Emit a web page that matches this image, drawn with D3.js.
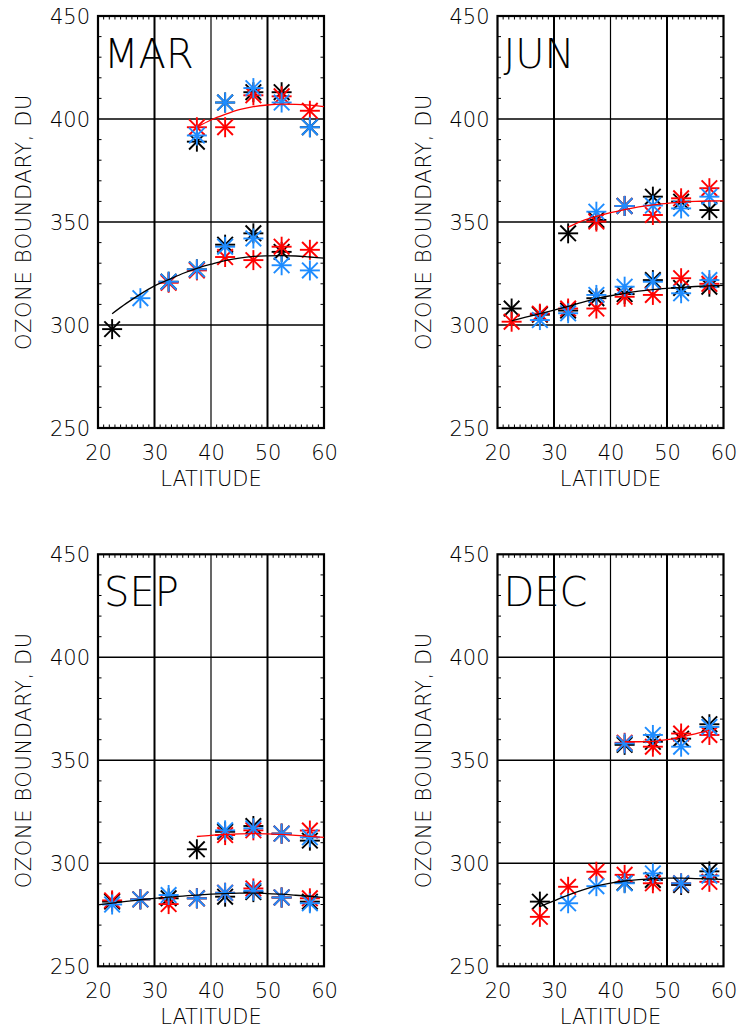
<!DOCTYPE html>
<html>
<head>
<meta charset="utf-8">
<script src="https://cdn.jsdelivr.net/npm/d3@7"></script>
<style>
  html, body { margin: 0; padding: 0; background: #fff; }
  svg text { font-family: "DejaVu Sans ExtraLight", "DejaVu Sans", sans-serif; font-weight: 200; fill: #000; }
</style>
</head>
<body>
<svg id="chart" width="738" height="1029"></svg>
<script>
// Latitude bin centres shared by all months
const latBins = [22.5, 27.5, 32.5, 37.5, 42.5, 47.5, 52.5, 57.5];
const xTicks = [20, 30, 40, 50, 60];
const yTicks = [250, 300, 350, 400, 450];

// ---- MAR ----
const marLowBlack  = [298, null, 321, 327, 339, 344.5, 335.5, null];
const marLowRed    = [null, null, 320.5, 326.5, 333, 331.5, 338, 336.5];
const marLowBlue   = [null, 313, 321, 327, 338, 342, 329, 326.5];
const marHighBlack = [null, null, null, 389, 408, 413, 413, 396];
const marHighRed   = [null, null, null, 396, 396, 411.5, 411, 404];
const marHighBlue  = [null, null, null, 392, 408, 415, 408, 396];
const marLowFitLat  = [22.5, 25, 27.5, 30, 32.5, 35, 37.5, 40, 42.5, 45, 47.5, 50, 52.5, 55, 57.5, 60];
const marLowFit     = [305.5, 310.5, 315, 319, 322, 325, 327.5, 329.5, 331.3, 332.5, 333.3, 333.6, 333.7, 333.5, 333, 332.5];
const marHighFitLat = [37.5, 40, 42.5, 45, 47.5, 50, 52.5, 55, 57.5, 60];
const marHighFit    = [396, 399.5, 402.2, 404.5, 406, 406.8, 407.2, 407.1, 406.7, 406];

// ---- JUN ----
const junLowBlack  = [308, 305, 307, 313, 315, 321.8, 318, 318.6];
const junLowRed    = [301.6, 305.5, 308, 308, 313.7, 314.6, 322.7, 320];
const junLowBlue   = [null, 302.4, 305.7, 314.6, 318.6, 321, 315.4, 321.8];
const junHighBlack = [null, null, 344.5, 351, 357.8, 362.3, 359.9, 355.8];
const junHighRed   = [null, null, null, 350.2, 357.8, 353.4, 361.5, 366.4];
const junHighBlue  = [null, null, null, 355, 357.8, 358, 356.6, 362.3];
const junLowFitLat  = [22.5, 25, 27.5, 30, 32.5, 35, 37.5, 40, 42.5, 45, 47.5, 50, 52.5, 55, 57.5, 60];
const junLowFit     = [302, 303.8, 305.5, 307.2, 309, 311, 312.8, 314.2, 315.4, 316.4, 317.2, 317.8, 318.3, 318.7, 319, 319.2];
const junHighFitLat = [32.5, 35, 37.5, 40, 42.5, 45, 47.5, 50, 52.5, 55, 57.5, 60];
const junHighFit    = [347.5, 350.5, 352.7, 354.5, 356, 357.3, 358.3, 359, 359.6, 360, 360.2, 360.3];

// ---- SEP ----
const sepLowBlack  = [281.4, 282.5, 283, 283, 283.8, 286, 283.4, 281.4];
const sepLowRed    = [282, 282.5, 280.2, 283, 285.7, 287.8, 283.4, 283];
const sepLowBlue   = [280, 282.5, 284.6, 283, 285.7, 286.7, 283.4, 280.6];
const sepHighBlack = [null, null, null, 306.8, 315.3, 318.1, 314.4, 311];
const sepHighRed   = [null, null, null, null, 313.7, 316, 314.4, 315.9];
const sepHighBlue  = [null, null, null, null, 316, 317, 314.4, 312.6];
const sepLowFitLat  = [20, 22.5, 25, 27.5, 30, 32.5, 35, 37.5, 40, 42.5, 45, 47.5, 50, 52.5, 55, 57.5, 60];
const sepLowFit     = [279.8, 280.7, 281.5, 282.3, 283, 283.6, 284.1, 284.6, 285, 285.3, 285.5, 285.5, 285.3, 285, 284.5, 284, 283.4];
const sepHighFitLat = [37.5, 40, 42.5, 45, 47.5, 50, 52.5, 55, 57.5, 60];
const sepHighFit    = [313, 313.6, 314, 314.3, 314.4, 314.3, 314, 313.6, 313.1, 312.6];

// ---- DEC ----
const decLowBlack  = [null, 281.4, null, null, 290.6, 291.9, 289.5, 296.1];
const decLowRed    = [null, 274, 288.6, 295.9, 294.4, 290.3, 290.3, 291];
const decLowBlue   = [null, null, 280.6, 288.9, 290.3, 295.1, 290.3, 294];
const decHighBlack = [null, null, null, null, 357.5, 359, 360.5, 367.5];
const decHighRed   = [null, null, null, null, 358.5, 356.6, 363, 362.3];
const decHighBlue  = [null, null, null, null, 358.2, 362.3, 356.6, 366.2];
const decLowFitLat  = [27.5, 30, 32.5, 35, 37.5, 40, 42.5, 45, 47.5, 50, 52.5, 55, 57.5, 60];
const decLowFit     = [279, 281.8, 284.6, 287, 289, 290.4, 291.4, 292.1, 292.6, 292.8, 292.8, 292.6, 292.4, 292.1];
const decHighFitLat = [42.5, 45, 47.5, 50, 52.5, 55, 57.5];
const decHighFit    = [359, 359, 359.2, 360, 361.3, 362.8, 364.5];

const panels = [
  { name: "MAR", col: 0, row: 0,
    series: [[marLowBlack, "black"], [marHighBlack, "black"], [marLowRed, "red"], [marHighRed, "red"], [marLowBlue, "blue"], [marHighBlue, "blue"]],
    fits: [[marLowFitLat, marLowFit, "black"], [marHighFitLat, marHighFit, "red"]] },
  { name: "JUN", col: 1, row: 0,
    series: [[junLowBlack, "black"], [junHighBlack, "black"], [junLowRed, "red"], [junHighRed, "red"], [junLowBlue, "blue"], [junHighBlue, "blue"]],
    fits: [[junLowFitLat, junLowFit, "black"], [junHighFitLat, junHighFit, "red"]] },
  { name: "SEP", col: 0, row: 1,
    series: [[sepLowBlack, "black"], [sepHighBlack, "black"], [sepLowRed, "red"], [sepHighRed, "red"], [sepLowBlue, "blue"], [sepHighBlue, "blue"]],
    fits: [[sepLowFitLat, sepLowFit, "black"], [sepHighFitLat, sepHighFit, "red"]] },
  { name: "DEC", col: 1, row: 1,
    series: [[decLowBlack, "black"], [decHighBlack, "black"], [decLowRed, "red"], [decHighRed, "red"], [decLowBlue, "blue"], [decHighBlue, "blue"]],
    fits: [[decLowFitLat, decLowFit, "black"], [decHighFitLat, decHighFit, "red"]] }
];

const colors = { black: "#000000", red: "#ff0000", blue: "#1e8cff" };

const svg = d3.select("#chart");
const plotW = 226, plotH = 412;
const originX = [98, 497.5];
const originY = [16, 554.3];

const x = d3.scaleLinear().domain([20, 60]).range([0, plotW]);
const y = d3.scaleLinear().domain([250, 450]).range([plotH, 0]);

// asterisk marker: horizontal, vertical and two diagonal strokes
const arm = 10;
const diag = arm * 0.78;
function asterisk(g, cx, cy, color) {
  const segs = [
    [-arm, 0, arm, 0],
    [0, -arm, 0, arm],
    [-diag, -diag, diag, diag],
    [-diag, diag, diag, -diag]
  ];
  segs.forEach(s => {
    g.append("line")
      .attr("x1", cx + s[0]).attr("y1", cy + s[1])
      .attr("x2", cx + s[2]).attr("y2", cy + s[3])
      .attr("stroke", color).attr("stroke-width", 1.9);
  });
}

panels.forEach(p => {
  const g = svg.append("g")
    .attr("transform", `translate(${originX[p.col]},${originY[p.row]})`);

  // grid lines
  [300, 350, 400].forEach(v => {
    g.append("line").attr("x1", 0).attr("x2", plotW)
      .attr("y1", y(v)).attr("y2", y(v))
      .attr("stroke", "#000").attr("stroke-width", 1.6);
  });
  [30, 40, 50].forEach(v => {
    g.append("line").attr("y1", 0).attr("y2", plotH)
      .attr("x1", x(v)).attr("x2", x(v))
      .attr("stroke", "#000").attr("stroke-width", v === 40 ? 1.2 : 2);
  });

  // minor ticks on all four sides
  const tickLen = 3.5;
  d3.range(21, 60).filter(v => v % 10 !== 0).forEach(v => {
    g.append("line").attr("x1", x(v)).attr("x2", x(v)).attr("y1", 0).attr("y2", tickLen)
      .attr("stroke", "#000").attr("stroke-width", 1);
    g.append("line").attr("x1", x(v)).attr("x2", x(v)).attr("y1", plotH).attr("y2", plotH - tickLen)
      .attr("stroke", "#000").attr("stroke-width", 1);
  });
  d3.range(260, 450, 10).filter(v => v % 50 !== 0).forEach(v => {
    g.append("line").attr("x1", 0).attr("x2", tickLen).attr("y1", y(v)).attr("y2", y(v))
      .attr("stroke", "#000").attr("stroke-width", 1);
    g.append("line").attr("x1", plotW).attr("x2", plotW - tickLen).attr("y1", y(v)).attr("y2", y(v))
      .attr("stroke", "#000").attr("stroke-width", 1);
  });

  // frame
  g.append("rect").attr("x", 0).attr("y", 0).attr("width", plotW).attr("height", plotH)
    .attr("fill", "none").attr("stroke", "#000").attr("stroke-width", 2.2);

  // tick labels
  const xAxis = d3.axisBottom(x).tickValues(xTicks).tickSize(0).tickPadding(0);
  const xg = g.append("g").attr("transform", `translate(0,${plotH})`).call(xAxis);
  xg.select(".domain").remove();
  xg.selectAll("text").attr("dy", null).attr("y", 32).attr("font-size", 21)
    .attr("font-family", null).attr("font-weight", null);

  const yAxis = d3.axisLeft(y).tickValues(yTicks).tickSize(0).tickPadding(0);
  const yg = g.append("g").call(yAxis);
  yg.select(".domain").remove();
  yg.selectAll("text").attr("x", -8).attr("dy", "0.36em").attr("font-size", 21)
    .attr("font-family", null).attr("font-weight", null);
  xg.attr("font-family", null).attr("font-size", null);
  yg.attr("font-family", null).attr("font-size", null);

  // axis titles
  g.append("text").attr("x", plotW / 2).attr("y", plotH + 58)
    .attr("text-anchor", "middle").attr("font-size", 21).text("LATITUDE");
  g.append("text")
    .attr("transform", `translate(-67,${plotH / 2}) rotate(-90)`)
    .attr("text-anchor", "middle").attr("font-size", 21)
    .attr("letter-spacing", 0.6)
    .text("OZONE BOUNDARY, DU");

  // month label
  g.append("text").attr("x", 6).attr("y", 52)
    .attr("font-size", 40).text(p.name);

  // observations
  p.series.forEach(([vals, c]) => {
    vals.forEach((v, i) => {
      if (v == null) return;
      asterisk(g, x(latBins[i]), y(v), colors[c]);
    });
  });

  // fitted curves
  const line = d3.line().x(d => x(d[0])).y(d => y(d[1])).curve(d3.curveMonotoneX);
  p.fits.forEach(([lats, vals, c]) => {
    g.append("path").datum(lats.map((l, i) => [l, vals[i]]))
      .attr("d", line).attr("fill", "none")
      .attr("stroke", colors[c]).attr("stroke-width", 1.3);
  });
});
</script>
</body>
</html>
